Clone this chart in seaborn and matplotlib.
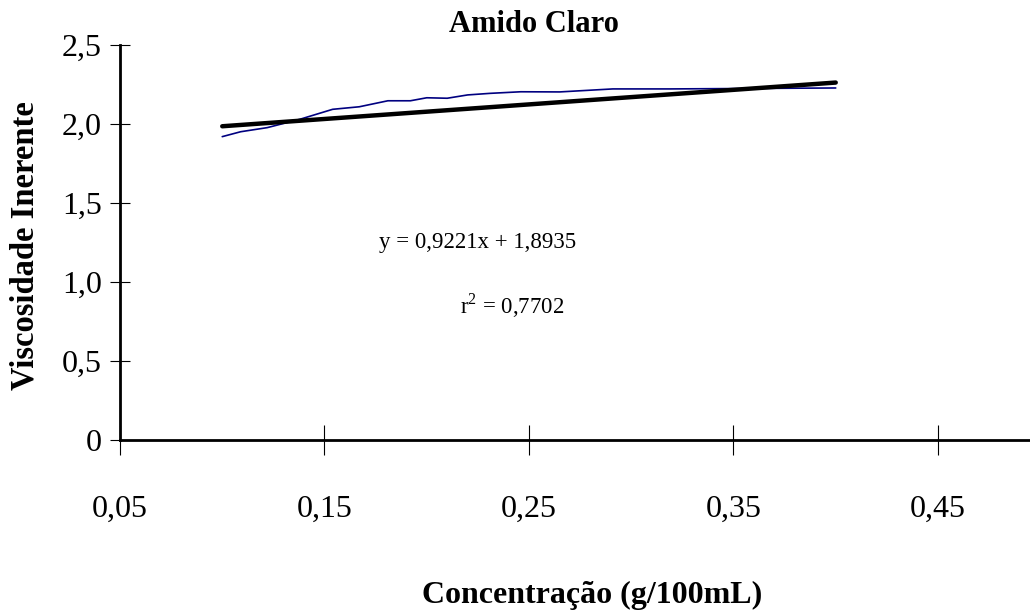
import matplotlib
matplotlib.use("Agg")
import matplotlib.pyplot as plt
import seaborn as sns
import pandas as pd

# Inherent viscosity of "Amido Claro" vs concentration
concentracao = [0.100, 0.109, 0.122, 0.138, 0.154, 0.167, 0.181, 0.192, 0.200,
                0.210, 0.220, 0.231, 0.246, 0.265, 0.291, 0.319, 0.400]
viscosidade = [1.920, 1.951, 1.977, 2.030, 2.093, 2.109, 2.147, 2.147, 2.166,
               2.163, 2.184, 2.194, 2.204, 2.203, 2.222, 2.222, 2.228]

# Linear fit coefficients
inclinacao = 0.9221
intercepto = 1.8935
r2 = 0.7702

x_ticks = [0.05, 0.15, 0.25, 0.35, 0.45]
x_labels = ["0,05", "0,15", "0,25", "0,35", "0,45"]
y_ticks = [0, 0.5, 1.0, 1.5, 2.0, 2.5]
y_labels = ["0", "0,5", "1,0", "1,5", "2,0", "2,5"]

sns.set_theme(style="white")
plt.rcParams["font.family"] = ["Liberation Serif", "DejaVu Serif"]
plt.rcParams["mathtext.fontset"] = "custom"
plt.rcParams["mathtext.rm"] = "Liberation Serif"
for chave in ["text.color", "axes.labelcolor", "xtick.color", "ytick.color"]:
    plt.rcParams[chave] = "black"

fig = plt.figure(figsize=(10.30, 6.13), dpi=100)
ax = fig.add_axes([120 / 1030, 1 - 440 / 613, 1 - 120 / 1030, (440 - 45) / 613])

dados = pd.DataFrame({"x": concentracao, "y": viscosidade})
sns.lineplot(data=dados, x="x", y="y", ax=ax, color="#000080", linewidth=1.2,
             sort=False)

x_fit = [min(concentracao), max(concentracao)]
ajuste = pd.DataFrame({"x": x_fit, "y": [inclinacao * v + intercepto for v in x_fit]})
sns.lineplot(data=ajuste, x="x", y="y", ax=ax, color="black", linewidth=3.2)

ax.set_xlim(0.05, 0.495)
ax.set_ylim(0, 2.5)
ax.set_xticks(x_ticks)
ax.set_xticklabels(x_labels, fontsize=23)
ax.set_yticks(y_ticks)
ax.set_yticklabels(y_labels, fontsize=23)
ax.tick_params(axis="x", direction="inout", length=21, width=0.8, color="black",
               pad=29, bottom=True)
ax.tick_params(axis="y", direction="inout", length=14, width=0.8, color="black",
               pad=6, left=True)

for lado in ["top", "right"]:
    ax.spines[lado].set_visible(False)
for lado in ["left", "bottom"]:
    ax.spines[lado].set_color("black")
    ax.spines[lado].set_linewidth(2)

ax.set_xlabel("")
ax.set_ylabel("")

fig.text(592 / 1030, 1 - 595 / 613, "Concentração (g/100mL)", fontsize=23,
         fontweight="bold", ha="center", va="center")
fig.text(25 / 1030, 1 - 246 / 613, "Viscosidade Inerente", fontsize=23.5,
         fontweight="bold", ha="center", va="center", rotation=90)
fig.text(449 / 1030, 1 - 24 / 613, "Amido Claro", fontsize=22,
         fontweight="bold", ha="left", va="center")

ax.text(0.225, 1.253, "y = 0,9221x + 1,8935", fontsize=16.5, ha="center",
        va="center")
ax.text(0.242, 0.85, "r$^{2}$ = 0,7702", fontsize=16.5, ha="center", va="center")

fig.savefig("out.png", dpi=100)
